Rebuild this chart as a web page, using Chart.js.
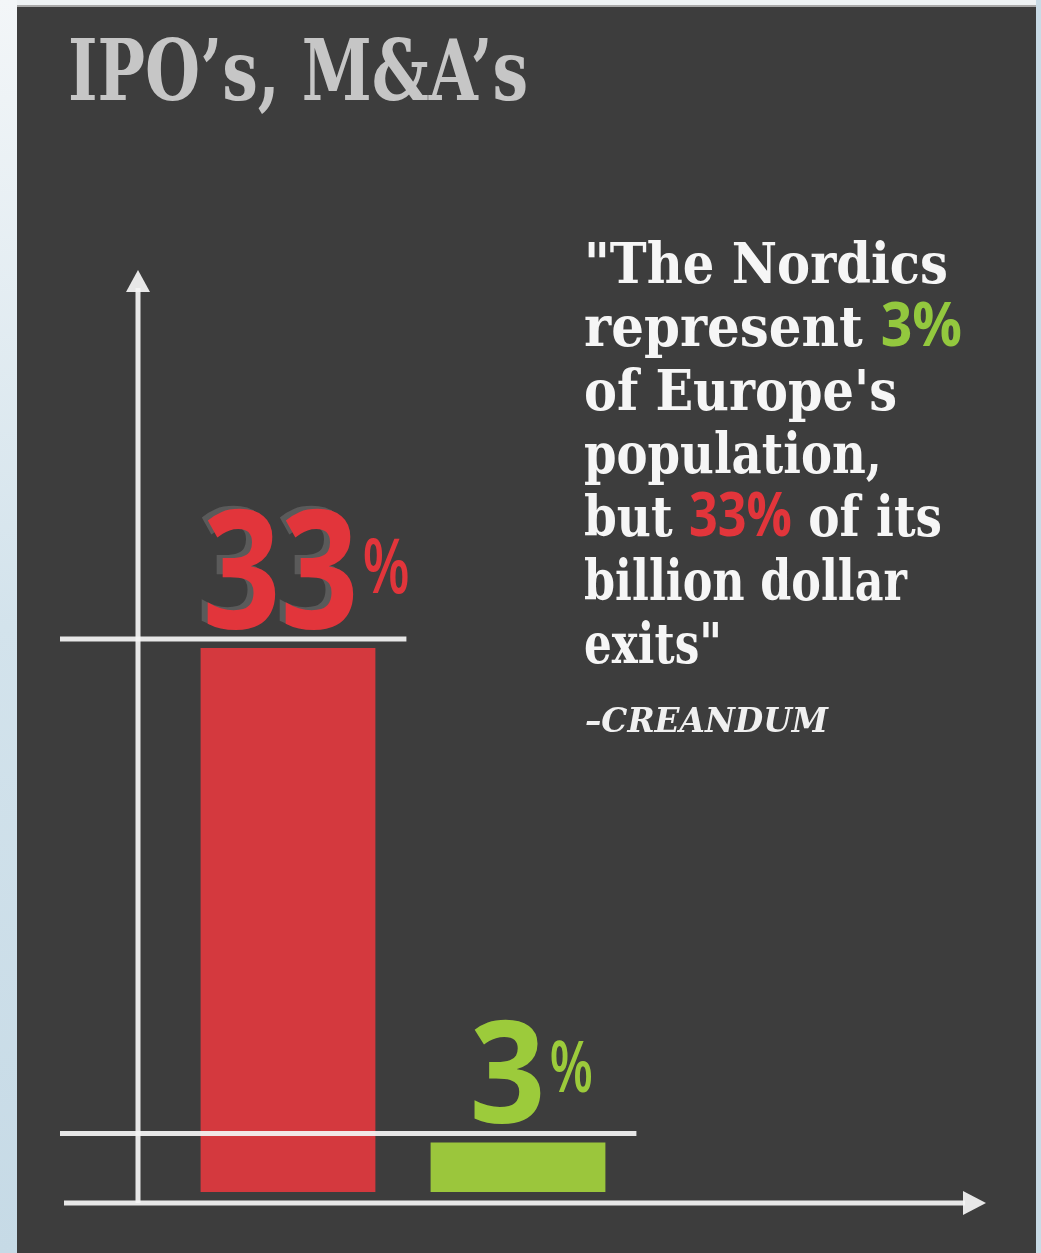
<!DOCTYPE html>
<html>
<head>
<meta charset="utf-8">
<script src="https://cdn.jsdelivr.net/npm/chart.js@4/dist/chart.umd.min.js"></script>
<style>
  html, body { margin: 0; padding: 0; background: #e9eff3; }
  #wrap { position: relative; width: 1041px; height: 1253px; }
</style>
</head>
<body>
<div id="wrap"><canvas id="myChart"></canvas></div>
<script>
// chart data
const categories = ['Billion dollar exits', 'Population']
const shares = [33, 3]
const barColors = ['#d4393e', '#9bc63c']
const labelColors = ['#e2353b', '#9ccb3b']

// texts
const title = 'IPO’s, M&A’s'
const quoteLines = [
    [['"The Nordics', 'w']],
    [['represent ', 'w'], ['3%', 'g']],
    [['of Europe\'s', 'w']],
    [['population,', 'w']],
    [['but ', 'w'], ['33%', 'r'], [' of its', 'w']],
    [['billion dollar', 'w']],
    [['exits"', 'w']]
]
const source = '–CREANDUM'

const BG = '#3d3d3d'
const LINE = 'rgba(244,244,244,0.93)'

const textWidth = (ctx, text, font) => {
    ctx.font = font
    return ctx.measureText(text).width
}

// draws text squeezed horizontally by sx
const drawScaled = (ctx, parts, x, y, sx) => {
    ctx.save()
    ctx.translate(x, y)
    ctx.scale(sx, 1)
    let cx = 0
    parts.forEach(([t, font, color]) => {
        ctx.font = font
        ctx.fillStyle = color
        ctx.fillText(t, cx, 0)
        cx += ctx.measureText(t).width
    })
    ctx.restore()
}

const backdrop = {
    id: 'backdrop',
    beforeDraw(chart) {
        const ctx = chart.ctx
        const W = chart.width, H = chart.height
        ctx.save()
        ctx.fillStyle = '#eef2f4'
        ctx.fillRect(0, 0, W, H)
        const g = ctx.createLinearGradient(0, 0, 17, H)
        g.addColorStop(0, '#f3f6f8')
        g.addColorStop(0.5, '#d3e3ec')
        g.addColorStop(1, '#c6dae6')
        ctx.fillStyle = g
        ctx.fillRect(0, 0, 17, H)
        ctx.fillStyle = '#c9dbe6'
        ctx.fillRect(1036, 0, W - 1036, H)
        ctx.fillStyle = '#a9a9a9'
        ctx.fillRect(17, 5, 1019, 3)
        ctx.fillStyle = BG
        ctx.fillRect(17, 7, 1019, H - 7)

        // title
        const tFont = 'bold 85px "DejaVu Serif"'
        const tsx = 460 / textWidth(ctx, title, tFont)
        ctx.textBaseline = 'alphabetic'
        drawScaled(ctx, [[title, tFont, '#c6c6c6']], 68, 100, tsx)

        // quote, each line fitted to its width in the original
        const serif = 'bold 56px "DejaVu Serif"'
        const sans = 'bold 60px "Open Sans"'
        const lineWidths = [364, 378, 313, 298, 358, 323, 138]
        const colors = { w: '#f6f6f6', g: '#93c83e', r: '#e2353b' }
        quoteLines.forEach((line, i) => {
            const parts = line.map(([t, c]) => [t, c === 'w' ? serif : sans, colors[c]])
            const full = parts.reduce((sum, p) => sum + textWidth(ctx, p[0], p[1]), 0)
            drawScaled(ctx, parts, 584, 283 + i * 63.3, lineWidths[i] / full)
        })
        const sFont = 'italic bold 34px "DejaVu Serif"'
        drawScaled(ctx, [[source, sFont, '#f0f0f0']], 585, 732, 243 / textWidth(ctx, source, sFont))
        ctx.restore()
    }
}

const arrowHead = (ctx, tipX, tipY, dir) => {
    ctx.beginPath()
    if (dir === 'up') {
        ctx.moveTo(tipX, tipY)
        ctx.lineTo(tipX - 12, tipY + 22)
        ctx.lineTo(tipX + 12, tipY + 22)
    } else {
        ctx.moveTo(tipX, tipY)
        ctx.lineTo(tipX - 23, tipY - 12)
        ctx.lineTo(tipX - 23, tipY + 12)
    }
    ctx.closePath()
    ctx.fill()
}

const markers = {
    id: 'markers',
    afterDatasetsDraw(chart) {
        const ctx = chart.ctx
        const area = chart.chartArea
        const bars = chart.getDatasetMeta(0).data
        ctx.save()
        ctx.strokeStyle = LINE
        ctx.fillStyle = LINE
        ctx.lineWidth = 5
        ctx.lineCap = 'butt'

        // level lines
        bars.forEach(bar => {
            const y = bar.y - 9
            ctx.beginPath()
            ctx.moveTo(60, y)
            ctx.lineTo(bar.x + bar.width / 2 + 31, y)
            ctx.stroke()
        })

        // axes
        const axisY = area.bottom + 11
        const axisX = area.left - 35
        ctx.beginPath()
        ctx.moveTo(axisX, axisY)
        ctx.lineTo(axisX, 288)
        ctx.stroke()
        arrowHead(ctx, axisX, 270, 'up')
        ctx.beginPath()
        ctx.moveTo(64, axisY)
        ctx.lineTo(965, axisY)
        ctx.stroke()
        arrowHead(ctx, 986, axisY, 'right')

        // big value labels
        const sizes = [
            { size: 165, dx: 2, w: 156, pct: 76, pdy: 35, pdx: 4 },
            { size: 142, dx: 39, w: 76, pct: 70, pdy: 31, pdx: 4 }
        ]
        bars.forEach((bar, i) => {
            const s = sizes[i]
            const font = 'bold ' + s.size + 'px "Open Sans"'
            const txt = String(shares[i])
            const sx = s.w / textWidth(ctx, txt, font)
            const x = bar.x - bar.width / 2 + s.dx
            const y = bar.y - 20
            if (i === 0) {
                drawScaled(ctx, [[txt, font, '#5a5a5a']], x - 6, y - 3, sx)
            }
            drawScaled(ctx, [[txt, font, labelColors[i]]], x, y, sx)
            const pFont = '600 ' + s.pct + 'px "Open Sans"'
            drawScaled(ctx, [['%', pFont, labelColors[i]]], x + s.w + s.pdx, y - s.pdy, 0.72)
        })
        ctx.restore()
    }
}

new Chart(document.getElementById('myChart').getContext('2d'), {
    type: 'bar',
    data: {
        labels: categories,
        datasets: [{
            label: 'Share',
            data: shares,
            backgroundColor: barColors,
            borderWidth: 0,
            barPercentage: 0.76,
            categoryPercentage: 1
        }]
    },
    options: {
        responsive: true,
        maintainAspectRatio: false,
        animation: false,
        layout: { padding: { left: 173, right: 408, top: 648, bottom: 61 } },
        scales: {
            x: { display: false },
            y: { display: false, min: 0, max: 33 }
        },
        plugins: {
            legend: { display: false },
            tooltip: { enabled: false }
        }
    },
    plugins: [backdrop, markers]
})
</script>
</body>
</html>
